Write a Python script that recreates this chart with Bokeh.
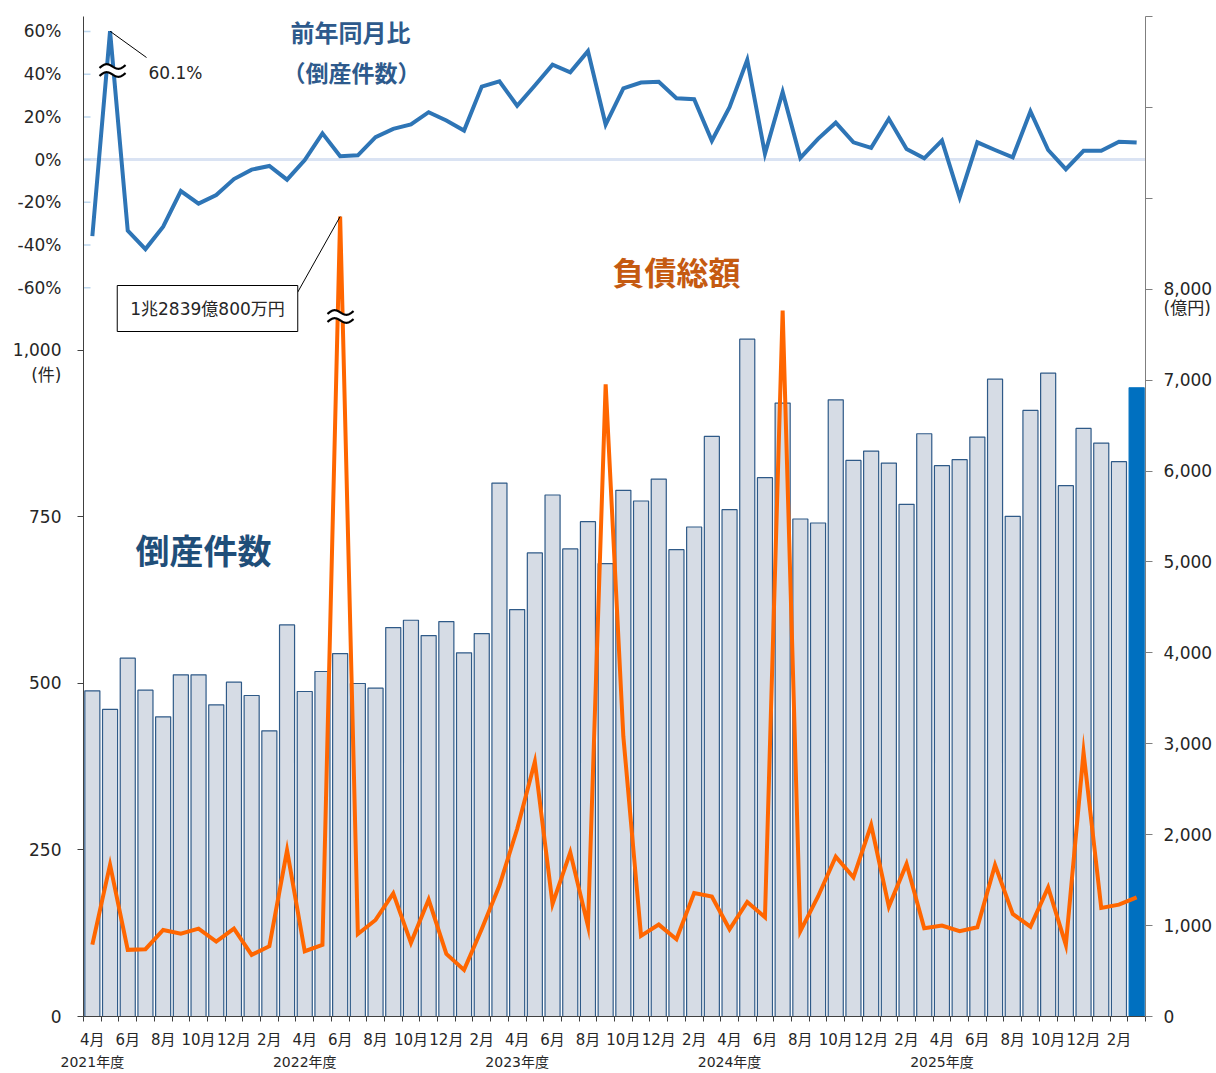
import numpy as np
from bokeh.plotting import figure
from bokeh.models import (Range1d, LinearAxis, FixedTicker, NumeralTickFormatter,
                          Label, Span)
from bokeh.embed import file_html
from bokeh.resources import INLINE

# ---------------- data ----------------
fiscal_years = ["2021年度", "2022年度", "2023年度", "2024年度", "2025年度"]
month_names = ["4月", "5月", "6月", "7月", "8月", "9月", "10月", "11月", "12月", "1月", "2月", "3月"]

# bankruptcies (件), Apr 2021 - Mar 2026
counts = [489, 461, 538, 490, 450, 513, 513, 468, 502, 482, 429, 588,
          488, 518, 545, 500, 493, 584, 595, 572, 593, 546, 575, 801,
          611, 696, 783, 702, 743, 680, 790, 774, 807, 701, 735, 871,
          761, 1017, 809, 921, 747, 741, 926, 835, 849, 831, 769, 875,
          827, 836, 870, 957, 751, 910, 966, 797, 883, 861, 833, 944]

# total liabilities (億円)
debt = [791, 1670, 733, 740, 952, 912, 967, 824, 967, 678, 773, 1828,
        718, 788, 12839.08, 908, 1062, 1355, 810, 1286, 689, 513, 963, 1440,
        2062, 2802, 1238, 1806, 996, 6953, 3080, 887, 1011, 850, 1359, 1319,
        960, 1260, 1092, 7766, 940, 1320, 1758, 1531, 2106, 1209, 1678, 971,
        1000, 938, 982, 1667, 1128, 989, 1421, 788, 2905, 1194, 1231, 1311]

# year-on-year change of bankruptcies (%)
yoy = [-35.8, 60.1, -33.3, -41.9, -31.4, -14.7, -20.6, -16.6, -9.1, -4.7, -3.0, -9.4,
       -0.2, 12.3, 1.6, 2.0, 10.5, 14.4, 16.5, 22.2, 18.3, 13.6, 34.2, 36.6,
       25.2, 34.7, 44.4, 40.9, 50.8, 16.4, 33.4, 36.1, 36.4, 28.7, 28.3, 8.8,
       24.5, 46.7, 2.7, 31.7, 0.8, 9.7, 17.3, 8.1, 5.5, 19.1, 5.0, 0.6,
       8.9, -17.7, 8.1, 4.5, 1.1, 22.6, 4.5, -4.5, 4.1, 4.1, 8.4, 8.0]

count_ticks = [0, 250, 500, 750, 1000]
debt_ticks = list(range(0, 11001, 1000))
debt_labelled_max = 8000
yoy_ticks = [-60, -40, -20, 0, 20, 40, 60]

DEBT_DISPLAY_CAP = 8800      # broken-axis display height of the 1兆円 spike
peak_text = "1兆2839億800万円"
yoy_peak_text = "60.1%"
count_unit = "(件)"
debt_unit = "(億円)"

# ---------------- styling ----------------
NUM_FONT = "DejaVu Sans"
JP_FONT = "Noto Sans CJK JP"
MIX_FONT = "DejaVu Sans, Noto Sans CJK JP"
TXT = "#262626"
BAR_FILL = "#D6DCE5"
BAR_LINE = "#2F5A88"
LAST_BAR = "#0070C0"
ORANGE = "#FF6600"
BLUE = "#2E75B6"

n = len(counts)
xs = [i + 0.5 for i in range(n)]
debt_plot = [min(v, DEBT_DISPLAY_CAP) for v in debt]

DEBT_MAX = 11000.0
COUNT_MAX = 1501.5
PCT_MIN, PCT_MAX = -401.2, 67.0
PX_X = n / 1062.0                 # data units per pixel (x)
PX_DEBT = DEBT_MAX / 1000.0
PX_PCT = (PCT_MAX - PCT_MIN) / 1000.0
PX_COUNT = COUNT_MAX / 1000.0


def count_to_main(c):
    return c / COUNT_MAX * DEBT_MAX


def pct_to_main(t):
    return (t - PCT_MIN) / (PCT_MAX - PCT_MIN) * DEBT_MAX


def pct_at(img_y):
    return PCT_MAX - (img_y - 16) * PX_PCT


p = figure(width=1216, height=1073, x_range=Range1d(0, n), y_range=Range1d(0, DEBT_MAX),
           output_backend="svg", toolbar_location=None,
           x_axis_location=None, y_axis_location=None,
           min_border_left=83, min_border_right=71, min_border_top=16, min_border_bottom=57)
p.outline_line_color = None
p.grid.visible = False
p.background_fill_color = "white"
p.border_fill_color = "white"
p.extra_y_ranges = {"count": Range1d(0, COUNT_MAX), "pct": Range1d(PCT_MIN, PCT_MAX)}

# ---------------- axes ----------------
xa = LinearAxis(ticker=FixedTicker(ticks=[i + 0.5 for i in range(0, n, 2)],
                                   minor_ticks=list(range(n + 1))),
                major_label_overrides={i + 0.5: month_names[i % 12] for i in range(0, n, 2)},
                major_tick_out=0, major_tick_in=0, minor_tick_out=5, minor_tick_in=0,
                major_label_standoff=9, major_label_text_font=MIX_FONT,
                major_label_text_font_size="15px", major_label_text_color=TXT,
                axis_line_color="#404040", minor_tick_line_color="#404040")
p.add_layout(xa, "below")

fy_pos = [12 * k + 0.5 for k in range(len(fiscal_years))]
fa = LinearAxis(ticker=FixedTicker(ticks=fy_pos, minor_ticks=[]),
                major_label_overrides=dict(zip(fy_pos, fiscal_years)),
                major_tick_out=0, major_tick_in=0, minor_tick_out=0, minor_tick_in=0,
                major_label_standoff=2, major_label_text_font=MIX_FONT,
                major_label_text_font_size="14px", major_label_text_color=TXT,
                axis_line_color=None)
p.add_layout(fa, "below")

# combined left axis: percent labels (upper panel) + counts (lower panel)
left_pos, left_lab = [], {}
for t in yoy_ticks:
    v = pct_to_main(t)
    left_pos.append(v)
    left_lab[v] = f"{t}%"
for c in count_ticks:
    v = count_to_main(c)
    left_pos.append(v)
    left_lab[v] = f"{c:,}"
unit_pos = count_to_main(1000) - 25 * PX_DEBT
left_pos.append(unit_pos)
left_lab[unit_pos] = count_unit
ya = LinearAxis(ticker=FixedTicker(ticks=left_pos,
                                   minor_ticks=[count_to_main(c) for c in count_ticks]),
                major_label_overrides=left_lab,
                major_tick_out=0, major_tick_in=0, minor_tick_out=6, minor_tick_in=0,
                major_label_standoff=16, major_label_text_font=MIX_FONT,
                major_label_text_font_size="17px", major_label_text_color=TXT,
                axis_line_color="#404040", minor_tick_line_color="#404040")
p.add_layout(ya, "left")

right_pos = [t for t in debt_ticks if t <= debt_labelled_max]
runit_pos = debt_labelled_max - 19 * PX_DEBT
right_lab = {runit_pos: debt_unit}
ra = LinearAxis(ticker=FixedTicker(ticks=right_pos + [runit_pos], minor_ticks=debt_ticks),
                formatter=NumeralTickFormatter(format="0,0"),
                major_label_overrides=right_lab,
                major_tick_out=0, major_tick_in=0, minor_tick_out=7, minor_tick_in=0,
                major_label_standoff=11, major_label_text_font=MIX_FONT,
                major_label_text_font_size="17px", major_label_text_color=TXT,
                axis_line_color="#7F7F7F", minor_tick_line_color="#7F7F7F")
p.add_layout(ra, "right")

# percent ticks (light blue, inside) and zero line
p.segment(x0=[0] * len(yoy_ticks), x1=[7 * PX_X] * len(yoy_ticks), y0=yoy_ticks, y1=yoy_ticks,
          y_range_name="pct", line_color="#BDD7EE", line_width=1.5)
p.add_layout(Span(location=0, dimension="width", y_range_name="pct",
                  line_color="#DAE3F3", line_width=3, level="underlay"))

# ---------------- bars ----------------
colors = [BAR_FILL] * (n - 1) + [LAST_BAR]
lines = [BAR_LINE] * (n - 1) + [LAST_BAR]
p.vbar(x=xs, top=counts, width=0.85, bottom=0, y_range_name="count",
       fill_color=colors, line_color=lines, line_width=1.2)

# ---------------- lines ----------------
p.line(xs, yoy, y_range_name="pct", line_color=BLUE, line_width=4, line_join="miter")
p.line(xs, debt_plot, line_color=ORANGE, line_width=4, line_join="miter")


# ---------------- break marks ----------------
def break_mark(cx, cy, uy, y_range_name="default"):
    u = np.linspace(-1, 1, 41)
    dx = 13 * u * PX_X
    base = (-3.0 * np.sin(np.pi * u) + 1.5 * u)
    xw = cx + dx
    kw = {} if y_range_name == "default" else {"y_range_name": y_range_name}
    p.line(xw, cy + base * uy, line_color="white", line_width=8, **kw)
    for off in (4.0, -4.0):
        p.line(xw, cy + (base + off) * uy, line_color="black", line_width=2.2, **kw)


break_mark(1.64, pct_at(70), PX_PCT, "pct")
break_mark(14.52, (1016 - 316) * PX_DEBT, PX_DEBT)

# ---------------- annotations ----------------
# 60.1% leader
p.segment(x0=[xs[1]], y0=[yoy[1]], x1=[(146 - 83) * PX_X], y1=[pct_at(57)],
          y_range_name="pct", line_color="black", line_width=1)
p.add_layout(Label(x=(148 - 83) * PX_X, y=pct_at(72), y_range_name="pct",
                   text=yoy_peak_text, text_align="left", text_baseline="middle",
                   text_font=NUM_FONT, text_font_size="17px", text_color=TXT))

# 1兆 box and leader
p.segment(x0=[(297 - 83) * PX_X], y0=[(1016 - 292) * PX_DEBT], x1=[xs[14]], y1=[debt_plot[14]],
          line_color="black", line_width=1)
p.add_layout(Label(x=(207 - 83) * PX_X, y=(1016 - 308) * PX_DEBT, text=peak_text,
                   text_align="center", text_baseline="middle", text_font=MIX_FONT,
                   text_font_size="17px", text_color=TXT, padding=13,
                   background_fill_color="white", border_line_color="black",
                   border_line_width=1))

# titles
p.add_layout(Label(x=(350 - 83) * PX_X, y=pct_at(31), y_range_name="pct",
                   text="前年同月比", text_align="center", text_baseline="middle",
                   text_font=JP_FONT, text_font_size="24px", text_font_style="bold",
                   text_color="#2E5A8C"))
p.add_layout(Label(x=(351 - 83) * PX_X, y=pct_at(71), y_range_name="pct",
                   text="（倒産件数）", text_align="center", text_baseline="middle",
                   text_font=JP_FONT, text_font_size="23px", text_font_style="bold",
                   text_color="#2E5A8C"))
p.add_layout(Label(x=(676 - 83) * PX_X, y=(1016 - 270) * PX_DEBT,
                   text="負債総額", text_align="center", text_baseline="middle",
                   text_font=JP_FONT, text_font_size="32px", text_font_style="bold",
                   text_color="#C55A11"))
p.add_layout(Label(x=(203 - 83) * PX_X, y=(1016 - 549) * PX_COUNT, y_range_name="count",
                   text="倒産件数", text_align="center", text_baseline="middle",
                   text_font=JP_FONT, text_font_size="34px", text_font_style="bold",
                   text_color="#1F4E79"))

open("out.html", "w").write(file_html(p, INLINE))
